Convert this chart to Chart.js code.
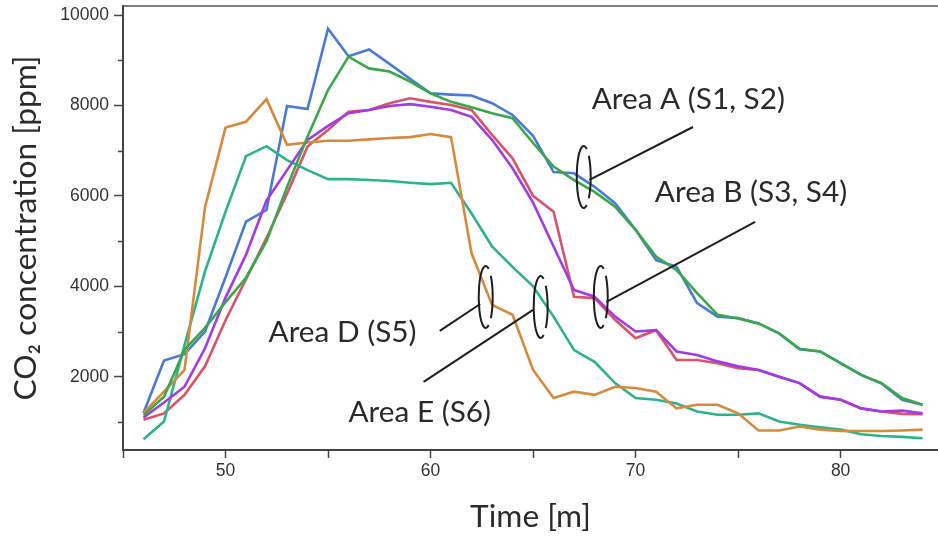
<!DOCTYPE html>
<html><head><meta charset="utf-8">
<script src="https://cdn.jsdelivr.net/npm/chart.js@4.4.1/dist/chart.umd.min.js"></script>
<style>html,body{margin:0;padding:0;background:#fff;overflow:hidden}canvas{display:block}</style>
</head><body>
<canvas id="c" width="938" height="537"></canvas>
<script>
// ---- data (time in minutes, CO2 in ppm) ----
const times = [46,47,48,49,50,51,52,53,54,55,56,57,58,59,60,61,62,63,64,65,66,67,68,69,70,71,72,73,74,75,76,77,78,79,80,81,82,83,84];
const s1 = [1200,2360,2500,3000,4200,5430,5690,7990,7920,9700,9090,9240,8920,8590,8270,8240,8220,8050,7790,7330,6530,6500,6200,5840,5250,4580,4430,3630,3330,3300,3180,2960,2610,2560,2300,2040,1850,1490,1380];
const s2 = [1150,1560,2600,3080,3650,4190,5000,6200,7310,8340,9080,8820,8750,8530,8270,8080,7960,7830,7720,7170,6650,6350,6090,5760,5250,4660,4360,3850,3370,3290,3180,2960,2620,2560,2300,2040,1860,1530,1380];
const s3 = [1050,1190,1600,2230,3250,4160,5070,6050,7090,7460,7860,7900,8050,8160,8080,8010,7900,7350,6830,6000,5650,3770,3740,3260,2850,3030,2370,2370,2300,2190,2150,2000,1860,1560,1490,1300,1230,1180,1170];
const s4 = [1100,1430,1780,2630,3750,4700,5900,6570,7240,7550,7830,7900,7990,8030,7970,7900,7750,7240,6610,5850,4880,3920,3770,3330,3000,3030,2560,2480,2340,2230,2150,2000,1860,1560,1490,1300,1230,1250,1190];
const s5 = [1200,1670,2150,5750,7510,7640,8140,7130,7180,7220,7220,7250,7280,7300,7370,7300,4730,3590,3370,2150,1530,1670,1600,1780,1750,1670,1300,1380,1380,1190,810,810,900,830,800,800,800,810,830];
const s6 = [620,1010,2700,4330,5650,6880,7100,6790,6570,6370,6370,6350,6330,6290,6260,6290,5610,4880,4430,4000,3330,2590,2330,1860,1530,1490,1410,1230,1160,1160,1190,1010,940,880,830,730,690,670,640];
const seriesNames = ['S1','S2','S3','S4','S5','S6'];
const xTickLabels = [50,60,70,80];
const yTickLabels = [2000,4000,6000,8000,10000];
const areaLabels = ['Area A (S1, S2)','Area B (S3, S4)','Area D (S5)','Area E (S6)'];

// ---- styles ----
const colors = ['#4a7bd3','#3aa84a','#d9546b','#a23be3','#d68a3e','#2db38c'];
const drawOrder = [4,0,5,1,2,3];
const tickFont = {family:'"Liberation Sans", Arial, sans-serif', size:17.5};
const labelFamily = 'Lato, "Noto Sans", sans-serif';

function fitSize(text, family, target){
  const c = document.createElement('canvas').getContext('2d');
  c.font = '100px ' + family;
  return 100 * target / c.measureText(text).width;
}
const titleSize = fitSize('CO\u2082 concentration [ppm]', labelFamily, 345);
const annSize = fitSize(areaLabels[2], labelFamily, 148);

// annotation placement in data space
const annots = [
  {text:areaLabels[0], tx:67.86, ty:7922, bx:67.47, by:6418, l:[67.75,6352,72.8,7524]},
  {text:areaLabels[1], tx:70.94, ty:5865, bx:68.3, by:3765, l:[68.58,3655,75.83,5423]},
  {text:areaLabels[2], tx:52.1, ty:2777, bx:62.69, by:3765, l:[62.42,3610,60.45,3013]},
  {text:areaLabels[3], tx:56.0, ty:1008, bx:65.37, by:3544, l:[65.0,3478,59.66,1886]}
];

const frameAndNotes = {
  id:'frameAndNotes',
  afterDraw(chart){
    const {ctx, chartArea:a, scales:{x, y}} = chart;
    ctx.save();
    // top frame line
    ctx.strokeStyle = '#555'; ctx.lineWidth = 1.5;
    ctx.beginPath(); ctx.moveTo(a.left, a.top); ctx.lineTo(a.right, a.top); ctx.stroke();
    // minor y ticks
    ctx.strokeStyle = '#444'; ctx.lineWidth = 1.5;
    y.ticks.forEach(t => {
      if (t.value % 2000 !== 0) {
        const py = Math.round(y.getPixelForValue(t.value)) + 0.5;
        ctx.beginPath(); ctx.moveTo(a.left - 5, py); ctx.lineTo(a.left, py); ctx.stroke();
      }
    });
    // annotations
    ctx.strokeStyle = '#1e1e1e'; ctx.fillStyle = '#2a2a2a'; ctx.lineWidth = 2;
    ctx.font = annSize.toFixed(2) + 'px ' + labelFamily;
    ctx.textBaseline = 'alphabetic'; ctx.textAlign = 'left';
    annots.forEach(n => {
      ctx.fillText(n.text, x.getPixelForValue(n.tx), y.getPixelForValue(n.ty));
      const cx = x.getPixelForValue(n.bx), cy = y.getPixelForValue(n.by);
      ctx.beginPath(); ctx.ellipse(cx, cy, 7, 31, 0, 0.36*Math.PI, 1.64*Math.PI); ctx.stroke();
      ctx.beginPath(); ctx.ellipse(cx, cy, 7, 31, 0, -0.24*Math.PI, 0.24*Math.PI); ctx.stroke();
      ctx.beginPath();
      ctx.moveTo(x.getPixelForValue(n.l[0]), y.getPixelForValue(n.l[1]));
      ctx.lineTo(x.getPixelForValue(n.l[2]), y.getPixelForValue(n.l[3]));
      ctx.stroke();
    });
    ctx.restore();
  }
};

const all = [s1,s2,s3,s4,s5,s6];
new Chart(document.getElementById('c'), {
  type:'line',
  data:{datasets: all.map((s,i) => ({
    label: seriesNames[i],
    data: times.map((t,j) => ({x:t, y:s[j]})),
    borderColor: colors[i], backgroundColor: colors[i],
    borderWidth: 2.6, pointRadius: 0, tension: 0, fill: false,
    order: drawOrder[i]
  }))},
  options:{
    responsive:false, animation:false,
    layout:{padding:{top:6, left:0, right:0, bottom:0}},
    plugins:{legend:{display:false}, tooltip:{enabled:false}},
    scales:{
      x:{
        type:'linear', min:45, max:84.75,
        afterBuildTicks: s => { const t=[]; for (let v=45; v<=84; v+=5) t.push({value:v}); s.ticks = t; },
        ticks:{callback: v => xTickLabels.includes(v) ? String(v) : '', font:tickFont, color:'#333', padding:3, maxRotation:0, autoSkip:false},
        grid:{drawOnChartArea:false, drawTicks:true, tickLength:8, tickColor:'#444', tickWidth:1.5},
        border:{display:true, color:'#444', width:2},
        title:{display:true, text:'Time [m]', color:'#2b2b2b', font:{family:labelFamily, size:titleSize}, padding:{top:0, bottom:1}},
        afterFit: s => { s.height = 87; s.paddingLeft = 0; s.paddingRight = 0; }
      },
      y:{
        type:'linear', min:380, max:10200,
        afterBuildTicks: s => { const t=[]; for (let v=1000; v<=10000; v+=1000) t.push({value:v}); s.ticks = t; },
        ticks:{callback: v => yTickLabels.includes(v) ? String(v) : '', font:tickFont, color:'#333', padding:5, autoSkip:false},
        grid:{drawOnChartArea:false, drawTicks:true, tickLength:9, tickWidth:1.5,
              tickColor: c => (c.tick && c.tick.value % 2000 === 0) ? '#444' : 'rgba(0,0,0,0)'},
        border:{display:true, color:'#444', width:2},
        title:{display:true, text:'CO\u2082 concentration [ppm]', color:'#2b2b2b', font:{family:labelFamily, size:titleSize}, padding:{top:7, bottom:0}},
        afterFit: s => { s.width = 123; s.paddingTop = 0; s.paddingBottom = 0; }
      }
    }
  },
  plugins:[frameAndNotes]
});
</script>
</body></html>
